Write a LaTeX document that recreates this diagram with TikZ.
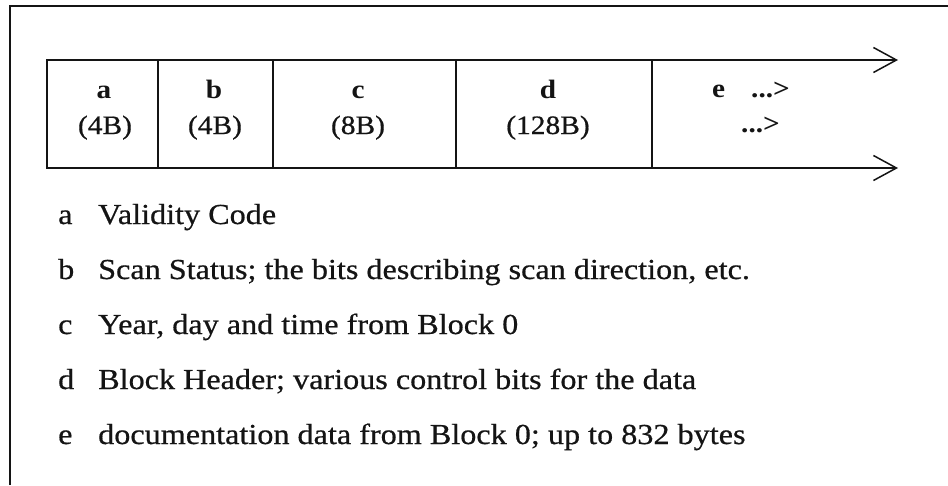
\documentclass[tikz,border=0pt]{standalone}
\usepackage{fontspec}
\setmainfont{Liberation Serif}[FakeStretch=1.105]
\newfontfamily\keyfont{Liberation Serif}[FakeStretch=1.11, FakeBold=0.6]
\usetikzlibrary{arrows.meta}
\definecolor{ink}{HTML}{141414}
\tikzset{
  frameline/.style={draw=ink, line width=2.4pt},
  cellbox/.style={draw=ink, line width=1.6pt, rectangle, minimum height=108pt, inner sep=0pt, outer sep=0pt},
  runline/.style={draw=ink, line width=1.6pt, -{Straight Barb[length=23pt,width=25pt,line width=1.5pt]}},
  celltag/.style={anchor=base, inner sep=0pt, text=ink, font=\fontsize{26.5}{32}\selectfont\bfseries},
  cellsize/.style={anchor=base, inner sep=0pt, text=ink, font=\fontsize{26.5}{32}\selectfont\keyfont},
  celltail/.style={anchor=base west, inner sep=0pt, text=ink, font=\fontsize{26.5}{32}\selectfont\bfseries},
  keytag/.style={anchor=base west, inner sep=0pt, text=ink, font=\fontsize{29}{34}\selectfont\keyfont},
  keytext/.style={anchor=base west, inner sep=0pt, text=ink, font=\fontsize{29}{34}\selectfont\keyfont},
}
\begin{document}
\begin{tikzpicture}[x=1pt, y=-1pt]
\useasboundingbox[fill=white] (0,0) rectangle (948,485);
% outer frame (top and left edges only)
\coordinate (fbl) at (10,485);
\coordinate (ftl) at (10,6);
\coordinate (ftr) at (948,6);
\draw[frameline] (fbl) -- (ftl) -- (ftr);
% cells
\node[cellbox, minimum width=111pt] (ca) at (102.5,114) {};
\node[cellbox, minimum width=115pt] (cb) at (215.5,114) {};
\node[cellbox, minimum width=183pt] (cc) at (364.5,114) {};
\node[cellbox, minimum width=196pt] (cd) at (554,114) {};
% open-ended lines with arrows
\coordinate (topend) at (898,60);
\coordinate (botend) at (898,168);
\draw[runline] (cd.north east) -- (topend);
\draw[runline] (cd.south east) -- (botend);
% cell texts
\node[celltag] (ta) at (104,98) {a};
\node[cellsize] (sa) at (105,134) {(4B)};
\node[celltag] (tb) at (214,98) {b};
\node[cellsize] (sb) at (215,134) {(4B)};
\node[celltag] (tc) at (358,98) {c};
\node[cellsize] (sc) at (358,134) {(8B)};
\node[celltag] (td) at (548,98) {d};
\node[cellsize] (sd) at (548,134) {(128B)};
\node[celltail] (te) at (712,97) {e};
\node[celltail] (te1) at (751,97) {...>};
\node[celltail] (te2) at (741,132) {...>};
% legend
\node[keytag] (ka) at (58,224) {a};
\node[keytext] (la) at (98,224) {Validity Code};
\node[keytag] (kb) at (58,279) {b};
\node[keytext] (lb) at (98,279) {Scan Status; the bits describing scan direction, etc.};
\node[keytag] (kc) at (58,334) {c};
\node[keytext] (lc) at (98,334) {Year, day and time from Block 0};
\node[keytag] (kd) at (58,389) {d};
\node[keytext] (ld) at (98,389) {Block Header; various control bits for the data};
\node[keytag] (ke) at (58,444) {e};
\node[keytext] (le) at (98,444) {documentation data from Block 0; up to 832 bytes};
\end{tikzpicture}
\end{document}
